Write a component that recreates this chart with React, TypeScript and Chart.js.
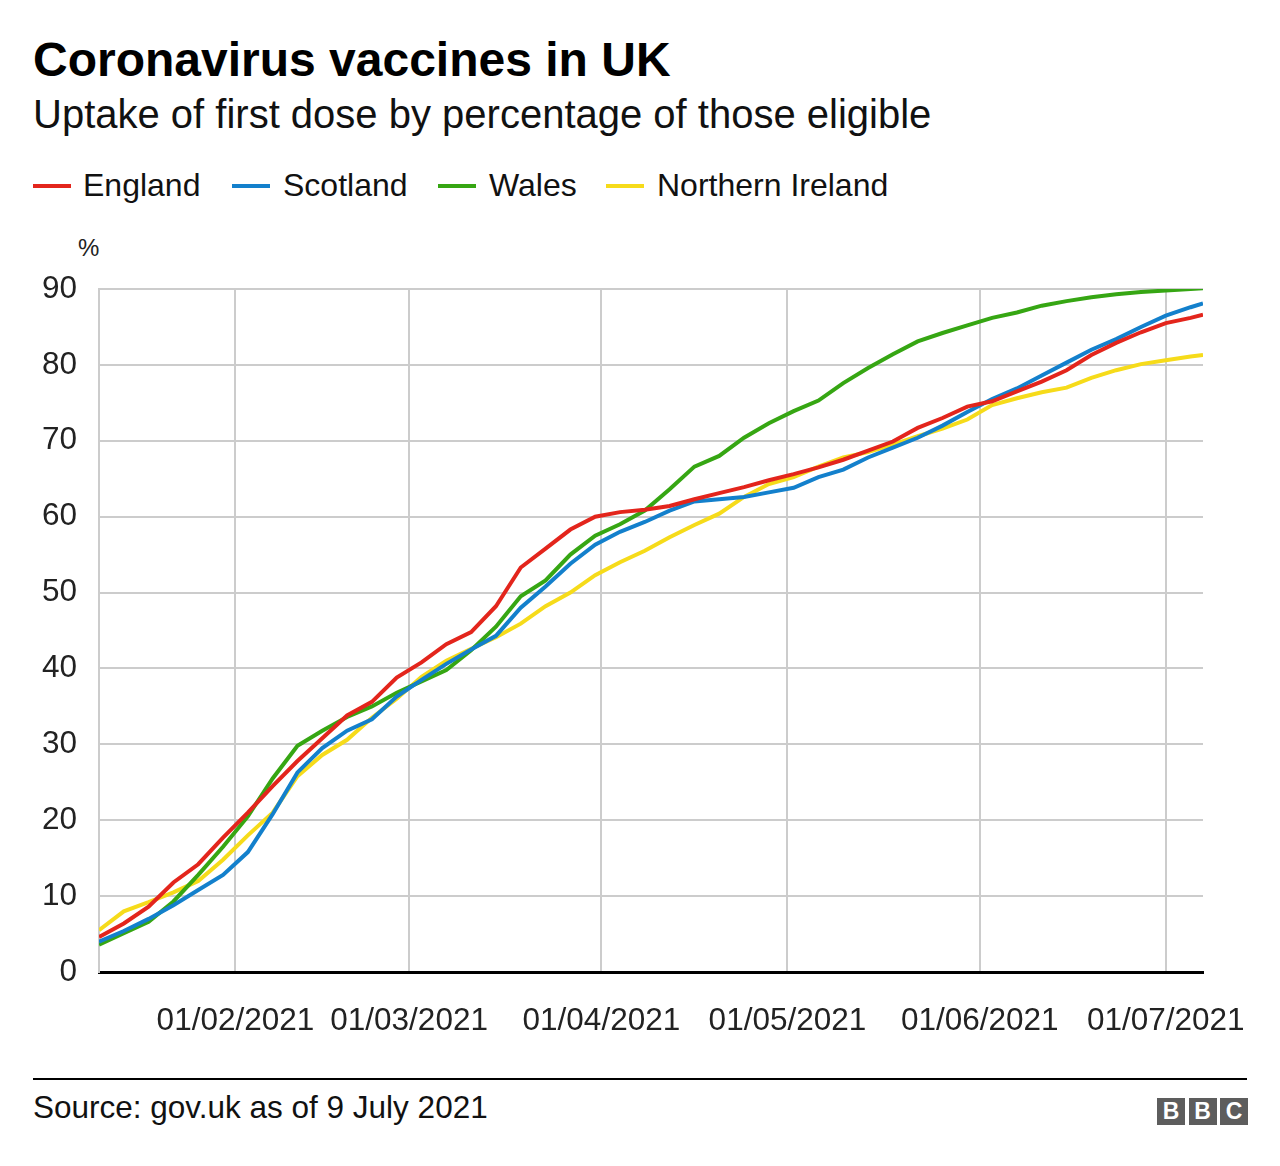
import React, { useEffect, useRef } from "react";
import { Chart, registerables } from "chart.js";

Chart.register(...registerables);

// Day index: 0 = 10/01/2021
const days = [0, 4, 8, 12, 16, 20, 24, 28, 32, 36, 40, 44, 48, 52, 56, 60, 64, 68, 72, 76, 80, 84, 88, 92, 96, 100, 104, 108, 112, 116, 120, 124, 128, 132, 136, 140, 144, 148, 152, 156, 160, 164, 168, 172, 176, 178];

const england = [4.6, 6.4, 8.6, 11.8, 14.2, 17.7, 21.0, 24.5, 27.8, 30.8, 33.8, 35.6, 38.8, 40.8, 43.2, 44.8, 48.2, 53.3, 55.8, 58.3, 60.0, 60.6, 60.9, 61.4, 62.3, 63.1, 63.9, 64.8, 65.6, 66.5, 67.5, 68.7, 69.9, 71.7, 73.0, 74.5, 75.2, 76.5, 77.8, 79.3, 81.3, 82.9, 84.3, 85.5, 86.2, 86.6];

const scotland = [4.0, 5.4, 7.0, 8.8, 10.8, 12.8, 15.8, 20.8, 26.3, 29.5, 31.8, 33.3, 36.3, 38.5, 40.6, 42.5, 44.3, 48.0, 50.8, 53.8, 56.3, 58.0, 59.3, 60.8, 62.0, 62.3, 62.6, 63.2, 63.8, 65.2, 66.2, 67.8, 69.1, 70.4, 72.0, 73.8, 75.5, 76.9, 78.6, 80.3, 82.0, 83.4, 85.0, 86.5, 87.6, 88.1];

const wales = [3.6, 5.1, 6.6, 9.3, 12.8, 16.5, 20.5, 25.5, 29.8, 31.8, 33.6, 35.0, 36.8, 38.3, 39.8, 42.4, 45.5, 49.5, 51.6, 55.0, 57.5, 59.0, 60.8, 63.6, 66.6, 68.0, 70.4, 72.3, 73.9, 75.3, 77.6, 79.6, 81.4, 83.1, 84.2, 85.2, 86.2, 86.9, 87.8, 88.4, 88.9, 89.3, 89.6, 89.8, 90.0, 90.1];

const northernIreland = [5.5, 8.0, 9.2, 10.5, 12.0, 14.8, 18.0, 21.0, 25.8, 28.6, 30.6, 33.5, 36.0, 38.9, 41.0, 42.6, 44.1, 45.9, 48.2, 50.0, 52.3, 54.0, 55.5, 57.3, 58.9, 60.4, 62.6, 64.3, 65.2, 66.6, 67.8, 68.5, 69.5, 70.6, 71.6, 72.8, 74.7, 75.6, 76.4, 77.0, 78.3, 79.3, 80.1, 80.6, 81.1, 81.3];

const seriesNames = ["England", "Scotland", "Wales", "Northern Ireland"];
const seriesColors = ["#E3251C", "#1380CC", "#36A613", "#F6DB1A"];

const monthTickDays = [22, 50, 81, 111, 142, 172];
const monthTickLabels = ["01/02/2021", "01/03/2021", "01/04/2021", "01/05/2021", "01/06/2021", "01/07/2021"];

const FONT = "'Liberation Sans', Arial, Helvetica, sans-serif";

export default function App() {
  const canvasRef = useRef<HTMLCanvasElement | null>(null);

  useEffect(() => {
    const canvas = canvasRef.current;
    if (!canvas) return;
    const values = [england, scotland, wales, northernIreland];
    const chart = new Chart(canvas, {
      type: "line",
      data: {
        datasets: values.map((arr, i) => ({
          label: seriesNames[i],
          data: arr.map((v, j) => ({ x: days[j], y: v })),
          borderColor: seriesColors[i],
          backgroundColor: seriesColors[i],
          borderWidth: 4,
          pointRadius: 0,
          tension: 0,
          fill: false,
        })),
      },
      options: {
        animation: false,
        responsive: false,
        maintainAspectRatio: false,
        layout: { padding: { left: 0, right: 77, top: 59, bottom: 0 } },
        plugins: {
          legend: { display: false },
          tooltip: { enabled: false },
          title: { display: false },
        },
        scales: {
          x: {
            type: "linear",
            min: 0,
            max: 178,
            afterBuildTicks: (scale: any) => {
              scale.ticks = monthTickDays.map((v) => ({ value: v }));
            },
            afterFit: (scale: any) => {
              scale.height = 88;
            },
            ticks: {
              autoSkip: false,
              maxRotation: 0,
              minRotation: 0,
              padding: 30,
              color: "#222222",
              font: { family: FONT, size: 31.5 },
              callback: (_v: any, index: number) => monthTickLabels[index],
            },
            grid: { color: "#cccccc", lineWidth: 2, drawTicks: false },
            border: { display: true, color: "#000000", width: 3 },
          },
          y: {
            min: 0,
            max: 90,
            afterFit: (scale: any) => {
              scale.width = 99;
            },
            ticks: {
              stepSize: 10,
              padding: 22,
              color: "#222222",
              font: { family: FONT, size: 31.5 },
            },
            grid: { color: "#cccccc", lineWidth: 2, drawTicks: false },
            border: { display: true, color: "#cccccc", width: 2 },
          },
        },
      },
    });
    return () => chart.destroy();
  }, []);

  const legendPos = [
    { marker: 33, text: 83 },
    { marker: 232, text: 283 },
    { marker: 438, text: 489 },
    { marker: 606, text: 657 },
  ];

  const abs = (o: React.CSSProperties): React.CSSProperties => ({ position: "absolute", whiteSpace: "nowrap", ...o });

  return (
    <div style={{ position: "absolute", left: 0, top: 0, width: 1280, height: 1166, background: "#ffffff", fontFamily: FONT, color: "#000" }}>
      <div style={abs({ left: 33, top: 36, fontSize: 48, lineHeight: "48px", fontWeight: 700, color: "#000" })}>
        Coronavirus vaccines in UK
      </div>
      <div style={abs({ left: 33, top: 94, fontSize: 40, lineHeight: "40px", color: "#111" })}>
        Uptake of first dose by percentage of those eligible
      </div>
      {seriesNames.map((name, i) => (
        <React.Fragment key={name}>
          <div style={abs({ left: legendPos[i].marker, top: 184, width: 38, height: 4, background: seriesColors[i] })} />
          <div style={abs({ left: legendPos[i].text, top: 169, fontSize: 32, lineHeight: "32px", color: "#111" })}>{name}</div>
        </React.Fragment>
      ))}
      <div style={abs({ left: 78, top: 236, fontSize: 24, lineHeight: "24px", color: "#222" })}>%</div>
      <canvas ref={canvasRef} width={1280} height={830} style={{ position: "absolute", left: 0, top: 230, width: 1280, height: 830 }} />
      <div style={abs({ left: 33, top: 1078, width: 1214, height: 2, background: "#000" })} />
      <div style={abs({ left: 33, top: 1092, fontSize: 31.5, lineHeight: "31.5px", color: "#111" })}>
        Source: gov.uk as of 9 July 2021
      </div>
      {["B", "B", "C"].map((ch, i) => (
        <div
          key={i}
          style={abs({
            left: 1157 + i * 31.5,
            top: 1098,
            width: 28,
            height: 27,
            background: "#5d5d5d",
            color: "#fff",
            fontWeight: 700,
            fontSize: 23,
            lineHeight: "27px",
            textAlign: "center",
          })}
        >
          {ch}
        </div>
      ))}
    </div>
  );
}
